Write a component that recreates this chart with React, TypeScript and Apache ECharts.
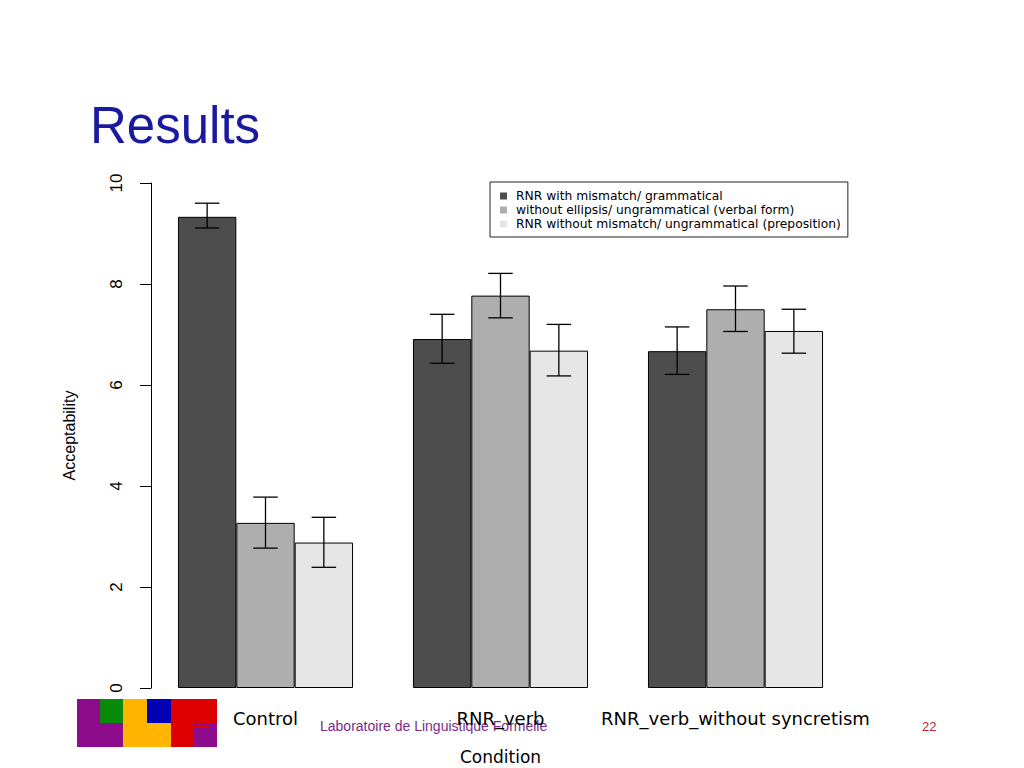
import React, { useEffect, useRef } from 'react';
import * as echarts from 'echarts';

const categories = ['Control', 'RNR_verb', 'RNR_verb_without syncretism'];
const seriesNames = [
  'RNR with mismatch/ grammatical',
  'without ellipsis/ ungrammatical (verbal form)',
  'RNR without mismatch/ ungrammatical (preposition)',
];
const grammaticalMeans = [9.33, 6.91, 6.67];
const verbalFormMeans = [3.27, 7.77, 7.5];
const prepositionMeans = [2.88, 6.68, 7.07];
const grammaticalLow = [9.11, 6.43, 6.21];
const grammaticalHigh = [9.6, 7.4, 7.15];
const verbalFormLow = [2.77, 7.33, 7.06];
const verbalFormHigh = [3.78, 8.21, 7.96];
const prepositionLow = [2.39, 6.18, 6.63];
const prepositionHigh = [3.38, 7.2, 7.5];
const barColors = ['#4d4d4d', '#aeaeae', '#e6e6e6'];

const GAP = 0.255;
const FONT = 'Liberation Sans, Arial, Helvetica, sans-serif';
const WIDE = 'DejaVu Sans, sans-serif';

function makeErr(i: number, low: number[], high: number[]) {
  return {
    type: 'custom',
    name: 'err' + i,
    z: 5,
    data: low.map((l, k) => [k, l, high[k]]),
    encode: { x: 0, y: [1, 2] },
    renderItem: (params: any, api: any) => {
      const k = api.value(0);
      const top = api.coord([k, api.value(2)]);
      const bot = api.coord([k, api.value(1)]);
      const band = api.size([1, 0])[0];
      const bw = (band * (1 - GAP)) / 3;
      const x = top[0] + (i - 1) * bw;
      const cw = bw * 0.21;
      const style = { stroke: '#000', lineWidth: 1.3 };
      return {
        type: 'group',
        children: [
          { type: 'line', shape: { x1: x, y1: top[1], x2: x, y2: bot[1] }, style },
          { type: 'line', shape: { x1: x - cw, y1: top[1], x2: x + cw, y2: top[1] }, style },
          { type: 'line', shape: { x1: x - cw, y1: bot[1], x2: x + cw, y2: bot[1] }, style },
        ],
      };
    },
  };
}

export default function App() {
  const ref = useRef<HTMLDivElement>(null);
  useEffect(() => {
    if (!ref.current) return;
    const chart = echarts.init(ref.current, null, { renderer: 'svg' });
    const means = [grammaticalMeans, verbalFormMeans, prepositionMeans];
    const option: any = {
      animation: false,
      backgroundColor: '#ffffff',
      grid: { left: 148, top: 183, width: 705, height: 505, containLabel: false, outerBoundsMode: 'none' },
      legend: {
        data: seriesNames,
        orient: 'vertical',
        left: 490,
        top: 182,
        padding: [7, 7, 6, 10],
        itemGap: 0,
        itemWidth: 7,
        itemHeight: 7,
        icon: 'rect',
        borderColor: '#222',
        borderWidth: 1,
        itemStyle: { borderWidth: 0 },
        textStyle: {
          fontFamily: WIDE,
          fontSize: 12.3,
          color: '#000',
          lineHeight: 14,
          padding: [0, 0, 0, 4],
        },
      },
      xAxis: {
        type: 'category',
        data: categories,
        axisLine: { show: false },
        axisTick: { show: false },
        axisLabel: {
          interval: 0,
          fontFamily: WIDE,
          fontSize: 18,
          color: '#000',
          margin: 21,
        },
        name: 'Condition',
        nameLocation: 'middle',
        nameGap: 60,
        nameTextStyle: { fontFamily: WIDE, fontSize: 17, color: '#000' },
      },
      yAxis: {
        type: 'value',
        min: 0,
        max: 10,
        interval: 2,
        offset: -3,
        splitLine: { show: false },
        axisLine: { show: true, lineStyle: { color: '#000', width: 1 } },
        axisTick: { show: true, length: 11, lineStyle: { color: '#000' } },
        axisLabel: {
          rotate: 90,
          margin: 26,
          fontFamily: FONT,
          fontSize: 17,
          color: '#000',
        },
        name: 'Acceptability',
        nameLocation: 'middle',
        nameRotate: 90,
        nameGap: 74,
        nameTextStyle: { fontFamily: FONT, fontSize: 16, color: '#000' },
      },
      series: [
        ...seriesNames.map((n, i) => ({
          type: 'bar',
          name: n,
          data: means[i],
          barGap: '0%',
          barCategoryGap: GAP * 100 + '%',
          itemStyle: { color: barColors[i], borderColor: '#000', borderWidth: 1 },
        })),
        makeErr(0, grammaticalLow, grammaticalHigh),
        makeErr(1, verbalFormLow, verbalFormHigh),
        makeErr(2, prepositionLow, prepositionHigh),
      ],
      graphic: [
        {
          type: 'text',
          x: 90,
          y: 125,
          style: {
            text: 'Results',
            fontFamily: FONT,
            fontSize: 51,
            fill: '#1a1aa0',
            align: 'left',
            verticalAlign: 'middle',
          },
        },
        { type: 'rect', shape: { x: 77, y: 699, width: 46, height: 48 }, style: { fill: '#8c0c8c' } },
        { type: 'rect', shape: { x: 100, y: 699, width: 23, height: 24 }, style: { fill: '#0a8a0a' } },
        { type: 'rect', shape: { x: 123, y: 699, width: 48, height: 48 }, style: { fill: '#ffb400' } },
        { type: 'rect', shape: { x: 147, y: 699, width: 24, height: 24 }, style: { fill: '#0000b4' } },
        { type: 'rect', shape: { x: 171, y: 699, width: 46, height: 48 }, style: { fill: '#dc0000' } },
        { type: 'rect', shape: { x: 194, y: 723, width: 23, height: 24 }, style: { fill: '#8c0c8c' } },
        { type: 'rect', shape: { x: 194, y: 726, width: 16, height: 2 }, style: { fill: '#dc0000' } },
        {
          type: 'text',
          x: 320,
          y: 726,
          style: {
            text: 'Laboratoire de Linguistique Formelle',
            fontFamily: FONT,
            fontSize: 14,
            fill: '#7b2a8b',
            align: 'left',
            verticalAlign: 'middle',
          },
        },
        {
          type: 'text',
          x: 922,
          y: 726,
          style: {
            text: '22',
            fontFamily: FONT,
            fontSize: 13,
            fill: '#c0272d',
            align: 'left',
            verticalAlign: 'middle',
          },
        },
      ],
    };
    chart.setOption(option);
    return () => chart.dispose();
  }, []);
  return (
    <div
      ref={ref}
      style={{ position: 'absolute', left: 0, top: 0, width: 1024, height: 768 }}
    />
  );
}
